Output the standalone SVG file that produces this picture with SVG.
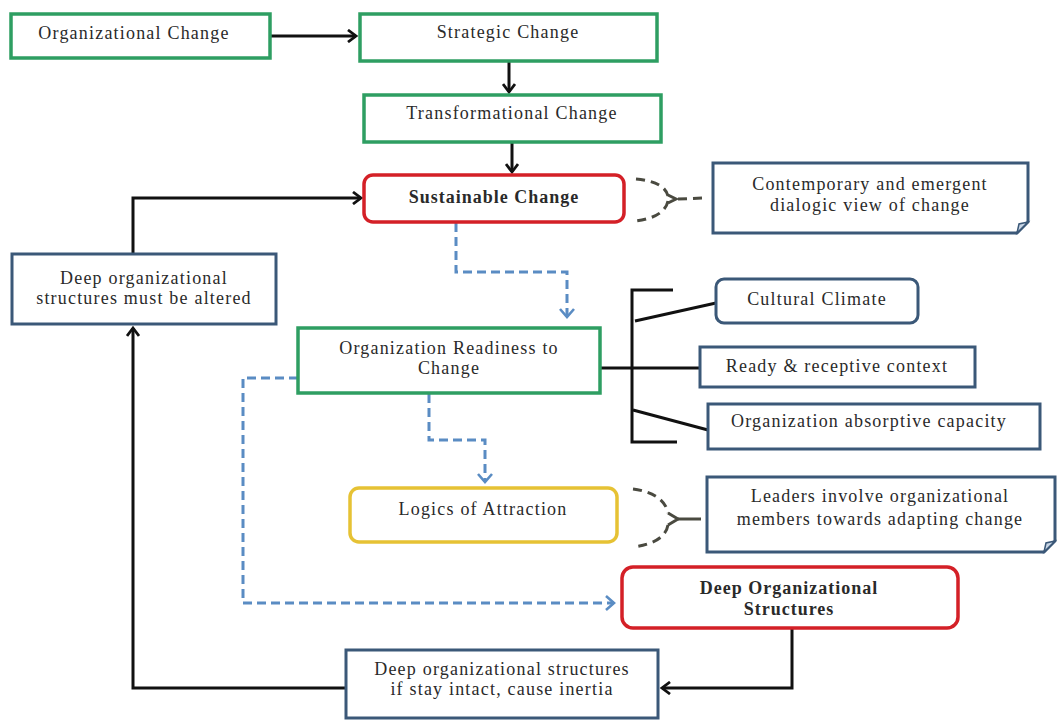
<svg xmlns="http://www.w3.org/2000/svg" width="1057" height="720" viewBox="0 0 1057 720">
<style>
text{font-family:"Liberation Serif","DejaVu Serif",serif;font-size:18px;letter-spacing:1.2px;fill:#2a2a2a;text-anchor:middle}
.b{font-weight:bold;letter-spacing:1px}
.g{fill:#fff;stroke:#2e9e62;stroke-width:3.5}
.r{fill:#fff;stroke:#d42027;stroke-width:3.5}
.y{fill:#fff;stroke:#e6c234;stroke-width:3.5}
.n{fill:#fff;stroke:#3b5878;stroke-width:3}
.k{fill:none;stroke:#111;stroke-width:3}
.d{fill:none;stroke:#5a8cc3;stroke-width:3;stroke-dasharray:9,5}
.br{fill:none;stroke:#4a4a40;stroke-width:3;stroke-dasharray:9,6}
.bs{fill:none;stroke:#4a4a40;stroke-width:3}
.fold{fill:#c9d6e6;stroke:#3b5878;stroke-width:1.5}
</style>
<defs>
<marker id="ak" markerWidth="12" markerHeight="14" refX="9" refY="7" orient="auto" markerUnits="userSpaceOnUse" viewBox="0 0 12 14"><polyline points="1,1 9,7 1,13" fill="none" stroke="#111" stroke-width="2.8"/></marker>
<marker id="ab" markerWidth="14" markerHeight="16" refX="10" refY="8" orient="auto" markerUnits="userSpaceOnUse" viewBox="0 0 14 16"><polyline points="2,1 10,8 2,15" fill="none" stroke="#5a8cc3" stroke-width="2.6"/></marker>
</defs>
<rect width="1057" height="720" fill="#fff"/>
<g id="connectors">
<line class="k" x1="270" y1="36" x2="356" y2="36" marker-end="url(#ak)"/>
<line class="k" x1="509" y1="61" x2="509" y2="92" marker-end="url(#ak)"/>
<line class="k" x1="512" y1="142" x2="512" y2="172" marker-end="url(#ak)"/>
<polyline class="k" points="133,254 133,198 361,198" marker-end="url(#ak)"/>
<polyline class="d" points="456,223 456,272 567,272 567,317" marker-end="url(#ab)"/>
<polyline class="d" points="429,394 429,440 485,440 485,482" marker-end="url(#ab)"/>
<polyline class="d" points="298,378 243,378 243,603 614,603" marker-end="url(#ab)"/>
<polyline class="k" points="673,290 632,290 632,442 677,442"/>
<line class="k" x1="598" y1="368" x2="700" y2="368"/>
<line class="k" x1="635" y1="321" x2="716" y2="303"/>
<line class="k" x1="633" y1="410" x2="708" y2="430"/>
<polyline class="k" points="792,628 792,688 662,688" marker-end="url(#ak)"/>
<polyline class="k" points="346,688 133,688 133,328" marker-end="url(#ak)"/>
<path class="br" d="M636,179 C658,181 666,188 668,196 M668,201 C666,210 658,218 636,221"/>
<polyline class="bs" points="668,195 676,199 668,203"/>
<line class="br" x1="678" y1="199" x2="705" y2="198"/>
<path class="br" d="M633,489 C656,492 666,502 668,513 M668,525 C666,536 656,544 633,547"/>
<polyline class="bs" points="668,513 678,519 668,525"/>
<line class="bs" x1="678" y1="519" x2="701" y2="519"/>
</g>
<g id="n-org"><rect class="g" x="11" y="14" width="259" height="44"/><text x="134" y="39">Organizational Change</text></g>
<g id="n-strategic"><rect class="g" x="360" y="14" width="297" height="47"/><text x="508" y="38">Strategic Change</text></g>
<g id="n-transform"><rect class="g" x="364" y="95" width="297" height="47"/><text x="512" y="119">Transformational Change</text></g>
<g id="n-sustain"><rect class="r" x="364" y="175" width="260" height="47" rx="9"/><text class="b" x="494" y="203">Sustainable Change</text></g>
<g id="n-contemp"><path class="n" d="M713,163 H1028 V222 L1017,233 H713 Z"/><path class="fold" d="M1028,222 L1017,233 L1019,224 Z"/><text x="870" y="190">Contemporary and emergent</text><text x="870" y="211">dialogic view of change</text></g>
<g id="n-altered"><rect class="n" x="12" y="254" width="264" height="70"/><text x="144" y="284">Deep organizational</text><text x="144" y="304">structures must be altered</text></g>
<g id="n-ready"><rect class="g" x="298" y="328" width="302" height="65"/><text x="449" y="354">Organization Readiness to</text><text x="449" y="374">Change</text></g>
<g id="n-cultural"><rect class="n" x="716" y="279" width="202" height="44" rx="8"/><text x="817" y="305">Cultural Climate</text></g>
<g id="n-receptive"><rect class="n" x="700" y="347" width="275" height="40"/><text x="837" y="372">Ready &amp; receptive context</text></g>
<g id="n-absorptive"><rect class="n" x="708" y="404" width="332" height="45"/><text x="869" y="427">Organization absorptive capacity</text></g>
<g id="n-logics"><rect class="y" x="350" y="488" width="267" height="54" rx="9"/><text x="483" y="515">Logics of Attraction</text></g>
<g id="n-leaders"><path class="n" d="M707,477 H1055 V541 L1044,552 H707 Z"/><path class="fold" d="M1055,541 L1044,552 L1046,543 Z"/><text x="880" y="502">Leaders involve organizational</text><text x="880" y="525">members towards adapting change</text></g>
<g id="n-deep"><rect class="r" x="622" y="567" width="336" height="61" rx="11"/><text class="b" x="789" y="594">Deep Organizational</text><text class="b" x="789" y="615">Structures</text></g>
<g id="n-inertia"><rect class="n" x="346" y="650" width="312" height="68"/><text x="502" y="675">Deep organizational structures</text><text x="502" y="695">if stay intact, cause inertia</text></g>
</svg>
